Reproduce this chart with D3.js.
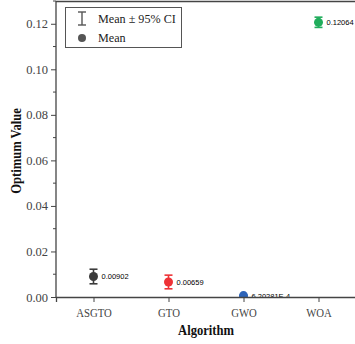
<!DOCTYPE html>
<html>
<head>
<meta charset="utf-8">
<script src="https://cdn.jsdelivr.net/npm/d3@7"></script>
<style>
  body { margin: 0; background: #fff; }
  svg { display: block; }
  text { font-family: "Liberation Serif", "DejaVu Serif", serif; }
</style>
</head>
<body>
<svg id="canvas" width="355" height="344"></svg>
<script>
const algorithms = ['ASGTO', 'GTO', 'GWO', 'WOA'];
const means = [0.00902, 0.00659, 0.000620281, 0.12064];
const ciLow = [0.0058, 0.0036, 0.0004, 0.1184];
const ciHigh = [0.0122, 0.0096, 0.0008, 0.1229];
const meanLabels = ['0.00902', '0.00659', '6.20281E-4', '0.12064'];
const colors = ['#3b3b3b', '#ee3236', '#2d63b8', '#21ad5c'];
const yTicks = [0, 0.02, 0.04, 0.06, 0.08, 0.10, 0.12];
const yMinor = [0.01, 0.03, 0.05, 0.07, 0.09, 0.11, 0.13];

const plotLeft = 56, plotRight = 356, plotTop = 1, plotBottom = 297;

let canvas = d3.select('#canvas');

let x = d3.scalePoint()
    .domain(algorithms)
    .range([plotLeft, plotRight])
    .padding(0.5);

let y = d3.scaleLinear()
    .domain([0, 0.13])
    .range([plotBottom, plotTop]);

// clip to plot area
canvas.append('defs').append('clipPath')
    .attr('id', 'plotclip')
    .append('rect')
    .attr('x', plotLeft)
    .attr('y', plotTop)
    .attr('width', plotRight - plotLeft)
    .attr('height', plotBottom - plotTop);

let plot = canvas.append('g').attr('clip-path', 'url(#plotclip)');

let items = algorithms.map((a, i) => ({
    name: a, mean: means[i], lo: ciLow[i], hi: ciHigh[i], label: meanLabels[i], color: colors[i]
}));

// error bars
let bars = plot.selectAll('g.bar')
    .data(items)
    .enter()
    .append('g')
    .attr('class', 'bar');

bars.append('line')
    .attr('x1', d => x(d.name)).attr('x2', d => x(d.name))
    .attr('y1', d => y(d.lo)).attr('y2', d => y(d.hi))
    .attr('stroke', d => d.color).attr('stroke-width', 1.6);

bars.selectAll('line.cap')
    .data(d => [{ d: d, v: d.lo }, { d: d, v: d.hi }])
    .enter()
    .append('line')
    .attr('class', 'cap')
    .attr('x1', c => x(c.d.name) - 4).attr('x2', c => x(c.d.name) + 4)
    .attr('y1', c => y(c.v)).attr('y2', c => y(c.v))
    .attr('stroke', c => c.d.color).attr('stroke-width', 1.6);

bars.append('circle')
    .attr('cx', d => x(d.name))
    .attr('cy', d => y(d.mean))
    .attr('r', 4.5)
    .attr('fill', d => d.color);

bars.append('text')
    .attr('x', d => x(d.name) + 8)
    .attr('y', d => y(d.mean) + 3)
    .style('font-family', '"Liberation Sans", Arial, sans-serif')
    .attr('font-size', 7.5)
    .attr('fill', '#000')
    .text(d => d.label);

// axes
let yAxis = d3.axisLeft(y)
    .tickValues(yTicks)
    .tickFormat(d3.format('.2f'))
    .tickSizeOuter(0)
    .tickSize(5)
    .tickPadding(3);

let gy = canvas.append('g')
    .attr('transform', `translate(${plotLeft},0)`)
    .call(yAxis);

gy.selectAll('.minor')
    .data(yMinor)
    .enter()
    .append('line')
    .attr('class', 'minor')
    .attr('x1', -3).attr('x2', 0)
    .attr('y1', d => y(d)).attr('y2', d => y(d))
    .attr('stroke', '#444');

let xAxis = d3.axisBottom(x)
    .tickSizeOuter(0)
    .tickSize(5)
    .tickPadding(6);

let gx = canvas.append('g')
    .attr('transform', `translate(0,${plotBottom})`)
    .call(xAxis);

[gx, gy].forEach(g => {
    g.attr('font-family', null).attr('font-size', null);
    g.select('.domain').attr('stroke', '#444').attr('stroke-width', 1.3);
    g.selectAll('.tick line').attr('stroke', '#444');
    g.selectAll('.tick text')
        .attr('fill', '#444')
        .attr('font-size', 12.5)
        .style('font-family', '"Liberation Serif", "Times New Roman", serif');
});
gx.selectAll('.tick text').attr('transform', 'scale(0.86,1)');

gy.select('.domain').attr('d', `M0,${plotTop}V${plotBottom}`);

// top and right frame
canvas.append('line')
    .attr('x1', plotLeft).attr('x2', plotRight)
    .attr('y1', plotTop + 0.5).attr('y2', plotTop + 0.5)
    .attr('stroke', '#444').attr('stroke-width', 1.3);
canvas.append('line')
    .attr('x1', plotRight).attr('x2', plotRight)
    .attr('y1', plotTop).attr('y2', plotBottom)
    .attr('stroke', '#444').attr('stroke-width', 1.3);

// axis titles
canvas.append('text')
    .attr('transform', `translate(${(plotLeft + plotRight) / 2},335) scale(0.9,1)`)
    .attr('text-anchor', 'middle')
    .attr('font-size', 14)
    .attr('font-weight', 'bold')
    .attr('fill', '#111')
    .text('Algorithm');

canvas.append('text')
    .attr('transform', `translate(21,${(plotTop + plotBottom) / 2 + 2}) rotate(-90) scale(0.9,1)`)
    .attr('text-anchor', 'middle')
    .attr('font-size', 14)
    .attr('font-weight', 'bold')
    .attr('fill', '#111')
    .text('Optimum Value');

// legend
let legend = canvas.append('g');
legend.append('rect')
    .attr('x', 65.5).attr('y', 7.5)
    .attr('width', 116).attr('height', 40)
    .attr('fill', '#fff')
    .attr('stroke', '#555')
    .attr('stroke-width', 1);

legend.append('line')
    .attr('x1', 82).attr('x2', 82).attr('y1', 12).attr('y2', 25)
    .attr('stroke', '#555').attr('stroke-width', 1.4);
[12, 25].forEach(v => {
    legend.append('line')
        .attr('x1', 78).attr('x2', 86).attr('y1', v).attr('y2', v)
        .attr('stroke', '#555').attr('stroke-width', 1.4);
});
legend.append('circle')
    .attr('cx', 82).attr('cy', 38).attr('r', 4)
    .attr('fill', '#555');

legend.selectAll('text.lab')
    .data(['Mean \u00b1 95% CI', 'Mean'])
    .enter()
    .append('text')
    .attr('class', 'lab')
    .attr('transform', (d, i) => `translate(98,${23 + i * 19}) scale(0.9,1)`)
    .attr('font-size', 13.5)
    .attr('fill', '#222')
    .text(d => d);
</script>
</body>
</html>
